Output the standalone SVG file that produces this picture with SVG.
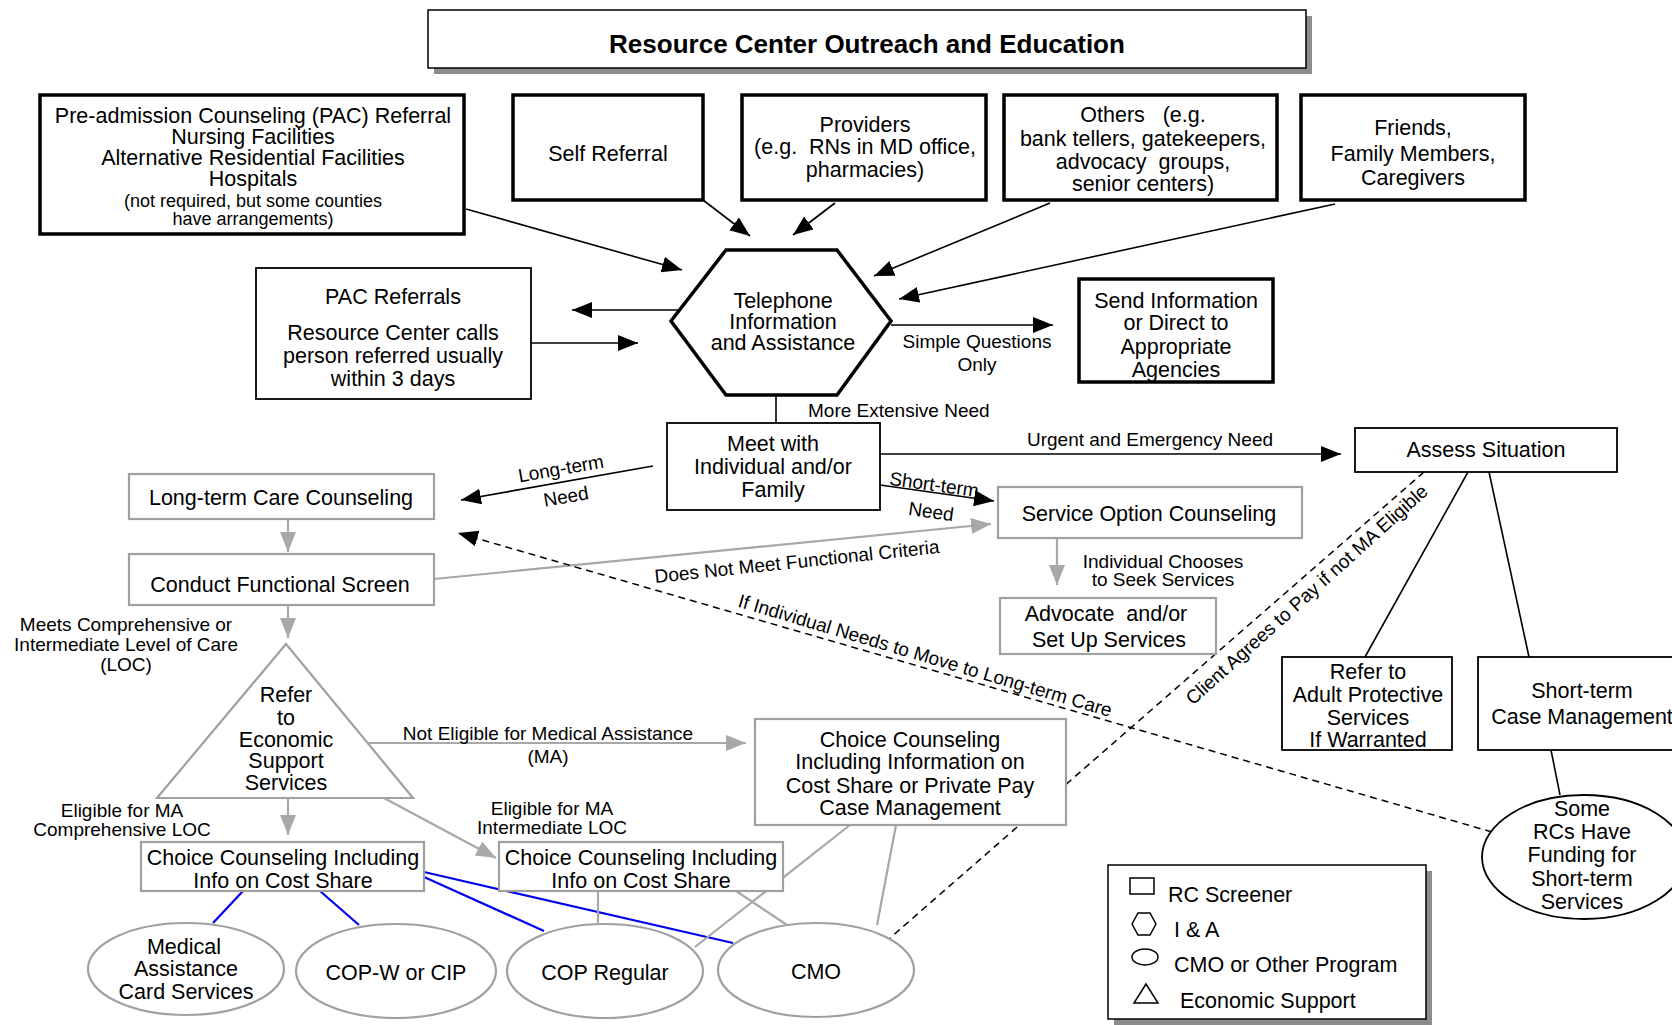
<svg xmlns="http://www.w3.org/2000/svg" width="1672" height="1025" viewBox="0 0 1672 1025">
<style>
  text { font-family: "Liberation Sans", Arial, sans-serif; fill: #000; }
  .t { font-size: 21.5px; text-anchor: middle; }
  .sm { font-size: 18px; text-anchor: middle; }
  .lbl { font-size: 19px; }
  .c { text-anchor: middle; }
  .lg { font-size: 21.5px; text-anchor: start; }
  .thick { fill: #fff; stroke: #000; stroke-width: 3.5; }
  .thin { fill: #fff; stroke: #000; stroke-width: 1.8; }
  .grey { fill: #fff; stroke: #a0a0a0; stroke-width: 2.2; }
  .shadow { fill: #8c8c8c; }
  .blk { stroke: #000; stroke-width: 1.6; fill: none; }
  .gry { stroke: #a8a8a8; stroke-width: 2.2; fill: none; }
  .blu { stroke: #0000ee; stroke-width: 2.2; fill: none; }
  .dash { stroke: #000; stroke-width: 1.5; stroke-dasharray: 7 5; fill: none; }
  .sym { fill: none; stroke: #000; stroke-width: 1.5; }
</style>
<defs>
  <marker id="ab" markerUnits="userSpaceOnUse" markerWidth="22" markerHeight="18" refX="20" refY="8" orient="auto">
    <path d="M0,0 L20,8 L0,16 Z" fill="#000"/>
  </marker>
  <marker id="ag" markerUnits="userSpaceOnUse" markerWidth="22" markerHeight="18" refX="20" refY="8" orient="auto">
    <path d="M0,0 L20,8 L0,16 Z" fill="#a8a8a8"/>
  </marker>
</defs>
<rect width="1672" height="1025" fill="#fff"/>

<!-- connectors -->
<g id="connectors">
  <line class="blk" x1="466" y1="209" x2="682" y2="270" marker-end="url(#ab)"/>
  <line class="blk" x1="703" y1="200" x2="750" y2="236" marker-end="url(#ab)"/>
  <line class="blk" x1="835" y1="203" x2="793" y2="235" marker-end="url(#ab)"/>
  <line class="blk" x1="1050" y1="203" x2="874" y2="276" marker-end="url(#ab)"/>
  <line class="blk" x1="1335" y1="204" x2="899" y2="299" marker-end="url(#ab)"/>
  <line class="blk" x1="680" y1="310" x2="572" y2="310" marker-end="url(#ab)"/>
  <line class="blk" x1="531" y1="343" x2="638" y2="343" marker-end="url(#ab)"/>
  <line class="blk" x1="891" y1="325" x2="1053" y2="325" marker-end="url(#ab)"/>
  <line class="blk" x1="776" y1="395" x2="776" y2="423"/>
  <line class="blk" x1="880" y1="454" x2="1341" y2="454" marker-end="url(#ab)"/>
  <line class="blk" x1="653" y1="466" x2="461" y2="500" marker-end="url(#ab)"/>
  <line class="blk" x1="880" y1="485" x2="994" y2="501" marker-end="url(#ab)"/>
  <line class="blk" x1="1468" y1="472" x2="1365" y2="657"/>
  <line class="blk" x1="1489" y1="472" x2="1529" y2="657"/>
  <line class="blk" x1="1551" y1="750" x2="1560" y2="795"/>

  <line class="gry" x1="288" y1="519" x2="288" y2="552" marker-end="url(#ag)"/>
  <line class="gry" x1="434" y1="579" x2="991" y2="524" marker-end="url(#ag)"/>
  <line class="gry" x1="1057" y1="538" x2="1057" y2="585" marker-end="url(#ag)"/>
  <line class="gry" x1="288" y1="605" x2="288" y2="638" marker-end="url(#ag)"/>
  <line class="gry" x1="368" y1="743" x2="746" y2="743" marker-end="url(#ag)"/>
  <line class="gry" x1="288" y1="798" x2="288" y2="835" marker-end="url(#ag)"/>
  <line class="gry" x1="384" y1="798" x2="496" y2="858" marker-end="url(#ag)"/>

  <line class="dash" x1="1492" y1="832" x2="458" y2="533" marker-end="url(#ab)"/>
  <line class="dash" x1="1424" y1="472" x2="890" y2="938"/>

  <line class="blu" x1="243" y1="891" x2="213" y2="923"/>
  <line class="blu" x1="320" y1="891" x2="359" y2="925"/>
  <line class="blu" x1="424" y1="877" x2="544" y2="931"/>
  <line class="blu" x1="424" y1="872" x2="733" y2="943"/>

  <line class="gry" x1="598" y1="891" x2="598" y2="923"/>
  <line class="gry" x1="736" y1="891" x2="787" y2="925"/>
  <line class="gry" x1="850" y1="825" x2="695" y2="947"/>
  <line class="gry" x1="896" y1="825" x2="877" y2="925"/>
</g>

<!-- connector labels -->
<g id="labels">
  <text class="lbl c" x="977" y="348">Simple Questions</text>
  <text class="lbl c" x="977" y="371">Only</text>
  <text class="lbl" x="808" y="417">More Extensive Need</text>
  <text class="lbl c" x="1150" y="446">Urgent and Emergency Need</text>
  <text class="lbl c" x="561" y="475" transform="rotate(-10 561 469)">Long-term</text>
  <text class="lbl c" x="566" y="503" transform="rotate(-10 566 497)">Need</text>
  <text class="lbl c" x="934" y="491" transform="rotate(8 934 485)">Short-term</text>
  <text class="lbl c" x="931" y="518" transform="rotate(8 931 512)">Need</text>
  <text class="lbl c" x="797" y="568" transform="rotate(-6 797 562)">Does Not Meet Functional Criteria</text>
  <text class="lbl c" x="1163" y="568">Individual Chooses</text>
  <text class="lbl c" x="1163" y="586">to Seek Services</text>
  <text class="lbl c" x="925" y="662" transform="rotate(16.5 925 656)">If Individual Needs to Move to Long-term Care</text>
  <text class="lbl c" x="1307" y="601" transform="rotate(-42 1307 595)">Client Agrees to Pay if not MA Eligible</text>
  <text class="lbl c" x="126" y="631">Meets Comprehensive or</text>
  <text class="lbl c" x="126" y="651">Intermediate Level of Care</text>
  <text class="lbl c" x="126" y="671">(LOC)</text>
  <text class="lbl c" x="548" y="740">Not Eligible for Medical Assistance</text>
  <text class="lbl c" x="548" y="763">(MA)</text>
  <text class="lbl c" x="122" y="817">Eligible for MA</text>
  <text class="lbl c" x="122" y="836">Comprehensive LOC</text>
  <text class="lbl c" x="552" y="815">Eligible for MA</text>
  <text class="lbl c" x="552" y="834">Intermediate LOC</text>
</g>

<g id="title">
  <rect class="shadow" x="434" y="16" width="878" height="58"/>
  <rect x="428" y="10" width="878" height="58" fill="#fff" stroke="#000" stroke-width="1.5"/>
  <text x="867" y="53" font-size="26" font-weight="bold" text-anchor="middle">Resource Center Outreach and Education</text>
</g>

<g id="pac-referral">
  <rect class="thick" x="40" y="95" width="424" height="139"/>
  <text class="t" x="253" y="123">Pre-admission Counseling (PAC) Referral</text>
  <text class="t" x="253" y="144">Nursing Facilities</text>
  <text class="t" x="253" y="165">Alternative Residential Facilities</text>
  <text class="t" x="253" y="186">Hospitals</text>
  <text class="sm" x="253" y="207">(not required, but some counties</text>
  <text class="sm" x="253" y="225">have arrangements)</text>
</g>

<g id="self-referral">
  <rect class="thick" x="513" y="95" width="190" height="105"/>
  <text class="t" x="608" y="161">Self Referral</text>
</g>

<g id="providers">
  <rect class="thick" x="742" y="95" width="244" height="105"/>
  <text class="t" x="865" y="132">Providers</text>
  <text class="t" x="865" y="154" xml:space="preserve">(e.g.  RNs in MD office,</text>
  <text class="t" x="865" y="177">pharmacies)</text>
</g>

<g id="others">
  <rect class="thick" x="1004" y="95" width="273" height="105"/>
  <text class="t" x="1143" y="122" xml:space="preserve">Others   (e.g.</text>
  <text class="t" x="1143" y="146">bank tellers, gatekeepers,</text>
  <text class="t" x="1143" y="169" xml:space="preserve">advocacy  groups,</text>
  <text class="t" x="1143" y="191">senior centers)</text>
</g>

<g id="friends">
  <rect class="thick" x="1301" y="95" width="224" height="105"/>
  <text class="t" x="1413" y="135">Friends,</text>
  <text class="t" x="1413" y="161">Family Members,</text>
  <text class="t" x="1413" y="185">Caregivers</text>
</g>

<g id="telephone-ia">
  <polygon class="thick" points="671,321 726,250 837,250 891,321 837,395 726,395"/>
  <text class="t" x="783" y="308">Telephone</text>
  <text class="t" x="783" y="329">Information</text>
  <text class="t" x="783" y="350">and Assistance</text>
</g>

<g id="pac-referrals">
  <rect class="thin" x="256" y="268" width="275" height="131"/>
  <text class="t" x="393" y="304">PAC Referrals</text>
  <text class="t" x="393" y="340">Resource Center calls</text>
  <text class="t" x="393" y="363">person referred usually</text>
  <text class="t" x="393" y="386">within 3 days</text>
</g>

<g id="send-info">
  <rect class="thick" x="1079" y="279" width="194" height="103"/>
  <text class="t" x="1176" y="308">Send Information</text>
  <text class="t" x="1176" y="330">or Direct to</text>
  <text class="t" x="1176" y="354">Appropriate</text>
  <text class="t" x="1176" y="377">Agencies</text>
</g>

<g id="meet-with">
  <rect class="thin" x="667" y="423" width="213" height="87"/>
  <text class="t" x="773" y="451">Meet with</text>
  <text class="t" x="773" y="474">Individual and/or</text>
  <text class="t" x="773" y="497">Family</text>
</g>

<g id="assess-situation">
  <rect class="thin" x="1355" y="428" width="262" height="44"/>
  <text class="t" x="1486" y="457">Assess Situation</text>
</g>

<g id="ltc-counseling">
  <rect class="grey" x="129" y="474" width="305" height="45"/>
  <text class="t" x="281" y="505">Long-term Care Counseling</text>
</g>

<g id="functional-screen">
  <rect class="grey" x="129" y="554" width="305" height="51"/>
  <text class="t" x="280" y="592">Conduct Functional Screen</text>
</g>

<g id="service-option">
  <rect class="grey" x="998" y="487" width="304" height="51"/>
  <text class="t" x="1149" y="521">Service Option Counseling</text>
</g>

<g id="advocate">
  <rect class="grey" x="1000" y="598" width="216" height="56"/>
  <text class="t" x="1106" y="621" xml:space="preserve">Advocate  and/or</text>
  <text class="t" x="1109" y="647">Set Up Services</text>
</g>

<g id="refer-aps">
  <rect class="thin" x="1282" y="657" width="170" height="93"/>
  <text class="t" x="1368" y="679">Refer to</text>
  <text class="t" x="1368" y="702">Adult Protective</text>
  <text class="t" x="1368" y="725">Services</text>
  <text class="t" x="1368" y="747">If Warranted</text>
</g>

<g id="short-term-cm">
  <rect class="thin" x="1478" y="657" width="220" height="93"/>
  <text class="t" x="1582" y="698">Short-term</text>
  <text class="t" x="1582" y="724">Case Management</text>
</g>

<g id="some-rcs">
  <ellipse class="thin" cx="1584" cy="857" rx="102" ry="62"/>
  <text class="t" x="1582" y="816">Some</text>
  <text class="t" x="1582" y="839">RCs Have</text>
  <text class="t" x="1582" y="862">Funding for</text>
  <text class="t" x="1582" y="886">Short-term</text>
  <text class="t" x="1582" y="909">Services</text>
</g>

<g id="economic-support">
  <polygon class="grey" points="286,644 157,798 413,798"/>
  <text class="t" x="286" y="702">Refer</text>
  <text class="t" x="286" y="725">to</text>
  <text class="t" x="286" y="747">Economic</text>
  <text class="t" x="286" y="768">Support</text>
  <text class="t" x="286" y="790">Services</text>
</g>

<g id="choice-private-pay">
  <rect class="grey" x="755" y="719" width="311" height="106"/>
  <text class="t" x="910" y="747">Choice Counseling</text>
  <text class="t" x="910" y="769">Including Information on</text>
  <text class="t" x="910" y="793">Cost Share or Private Pay</text>
  <text class="t" x="910" y="815">Case Management</text>
</g>

<g id="choice-comprehensive">
  <rect class="grey" x="141" y="842" width="283" height="49"/>
  <text class="t" x="283" y="865">Choice Counseling Including</text>
  <text class="t" x="283" y="888">Info on Cost Share</text>
</g>

<g id="choice-intermediate">
  <rect class="grey" x="499" y="842" width="284" height="49"/>
  <text class="t" x="641" y="865">Choice Counseling Including</text>
  <text class="t" x="641" y="888">Info on Cost Share</text>
</g>

<g id="ma-card">
  <ellipse class="grey" cx="186" cy="969" rx="98" ry="46"/>
  <text class="t" x="184" y="954">Medical</text>
  <text class="t" x="186" y="976">Assistance</text>
  <text class="t" x="186" y="999">Card Services</text>
</g>

<g id="cop-w">
  <ellipse class="grey" cx="396" cy="971" rx="100" ry="47"/>
  <text class="t" x="396" y="980">COP-W or CIP</text>
</g>

<g id="cop-regular">
  <ellipse class="grey" cx="605" cy="971" rx="98" ry="47"/>
  <text class="t" x="605" y="980">COP Regular</text>
</g>

<g id="cmo">
  <ellipse class="grey" cx="816" cy="970" rx="98" ry="47"/>
  <text class="t" x="816" y="979">CMO</text>
</g>

<g id="legend">
  <rect class="shadow" x="1114" y="871" width="318" height="154"/>
  <rect x="1108" y="865" width="318" height="154" fill="#fff" stroke="#000" stroke-width="1.5"/>
  <rect class="sym" x="1130" y="878" width="24" height="16"/>
  <text class="lg" x="1168" y="902">RC Screener</text>
  <polygon class="sym" points="1132,924 1138,913 1150,913 1156,924 1150,935 1138,935"/>
  <text class="lg" x="1174" y="937">I &amp; A</text>
  <ellipse class="sym" cx="1145" cy="957" rx="13" ry="8"/>
  <text class="lg" x="1174" y="972">CMO or Other Program</text>
  <polygon class="sym" points="1146,984 1134,1003 1158,1003"/>
  <text class="lg" x="1180" y="1008">Economic Support</text>
</g>
</svg>
